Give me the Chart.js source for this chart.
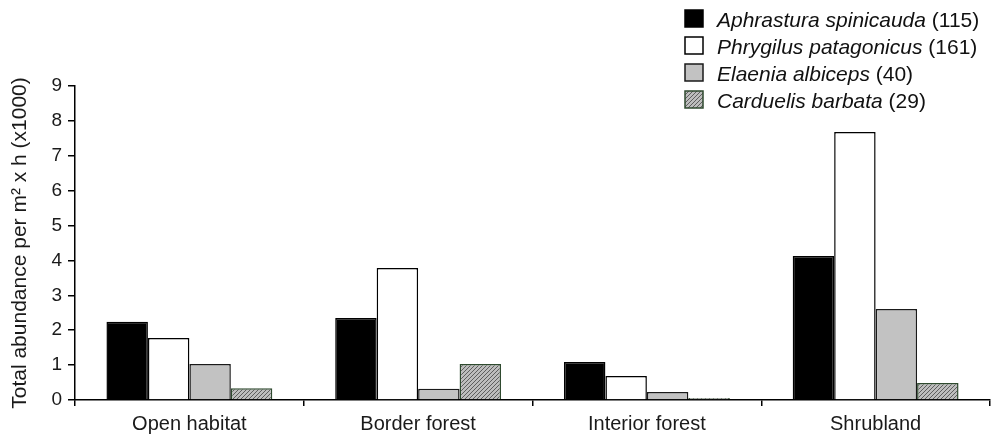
<!DOCTYPE html>
<html>
<head>
<meta charset="utf-8">
<script src="https://cdn.jsdelivr.net/npm/chart.js@4/dist/chart.umd.min.js"></script>
<style>
  html, body { margin: 0; padding: 0; background: #fff; }
  #wrap { width: 996px; height: 440px; position: relative; }
</style>
</head>
<body>
<div id="wrap"><canvas id="chart" width="996" height="440"></canvas></div>
<script>
const habitats = ['Open habitat', 'Border forest', 'Interior forest', 'Shrubland'];
const species = ['Aphrastura spinicauda', 'Phrygilus patagonicus', 'Elaenia albiceps', 'Carduelis barbata'];
const counts = [115, 161, 40, 29];

const aphrastura = [2.24, 2.35, 1.09, 4.13];
const phrygilus = [1.78, 3.78, 0.69, 7.68];
const elaenia = [1.03, 0.32, 0.23, 2.61];
const carduelis = [0.34, 1.03, 0.06, 0.49];

const yTicks = [0, 1, 2, 3, 4, 5, 6, 7, 8, 9];
const yTitle = 'Total abundance per m\u00B2 x h (x1000)';

const FONT = '"Liberation Sans", Arial, sans-serif';

// diagonal hatch like the Carduelis bars
function hatch() {
  let c = document.createElement('canvas');
  c.width = 4;
  c.height = 4;
  let ctx = c.getContext('2d');
  ctx.fillStyle = '#bdbdbd';
  ctx.fillRect(0, 0, 4, 4);
  ctx.strokeStyle = '#5e5e5e';
  ctx.lineWidth = 1;
  ctx.beginPath();
  ctx.moveTo(0, 4);
  ctx.lineTo(4, 0);
  ctx.moveTo(-1, 1);
  ctx.lineTo(1, -1);
  ctx.moveTo(3, 5);
  ctx.lineTo(5, 3);
  ctx.stroke();
  return ctx.createPattern(c, 'repeat');
}

const hatchFill = hatch();
const fills = ['#000000', '#ffffff', '#c2c2c2', hatchFill];
const borders = ['#000000', '#000000', '#1a1a1a', '#2f4a2f'];
const series = [aphrastura, phrygilus, elaenia, carduelis];

// legend with italic species name + upright count
const legendPlugin = {
  id: 'speciesLegend',
  afterDraw(chart) {
    const ctx = chart.ctx;
    ctx.save();
    species.forEach((name, i) => {
      const base = 27 + i * 27;
      ctx.fillStyle = fills[i];
      ctx.fillRect(685, base - 17, 18, 17);
      ctx.strokeStyle = borders[i];
      ctx.lineWidth = 1.5;
      ctx.strokeRect(685, base - 17, 18, 17);
      ctx.fillStyle = '#111';
      ctx.textBaseline = 'alphabetic';
      ctx.textAlign = 'left';
      ctx.font = 'italic 21px ' + FONT;
      ctx.fillText(name, 717, base);
      const w = ctx.measureText(name + ' ').width;
      ctx.font = '21px ' + FONT;
      ctx.fillText('(' + counts[i] + ')', 717 + w, base);
    });
    ctx.restore();
  }
};

new Chart(document.getElementById('chart'), {
  type: 'bar',
  data: {
    labels: habitats,
    datasets: series.map((vals, i) => {
      return {
        label: species[i],
        data: vals,
        backgroundColor: fills[i],
        borderColor: borders[i],
        borderWidth: 1.5,
        categoryPercentage: 0.725,
        barPercentage: 1.0
      };
    })
  },
  options: {
    responsive: false,
    animation: false,
    layout: {
      padding: { top: 86, right: 6, left: 0, bottom: 0 }
    },
    plugins: {
      legend: { display: false },
      tooltip: { enabled: false }
    },
    scales: {
      x: {
        afterFit: (scale) => { scale.height = 40; },
        border: { color: '#000', width: 1.5 },
        grid: {
          drawOnChartArea: false,
          drawTicks: true,
          tickLength: 6,
          color: '#000',
          lineWidth: 1.5,
          offset: true
        },
        ticks: {
          color: '#1a1a1a',
          padding: 6,
          font: { family: FONT, size: 20 }
        }
      },
      y: {
        min: 0,
        max: 9,
        afterFit: (scale) => { scale.width = 75; },
        afterBuildTicks: (scale) => {
          scale.ticks = yTicks.map((v) => ({ value: v }));
        },
        border: { color: '#000', width: 1.5 },
        grid: {
          drawOnChartArea: false,
          drawTicks: true,
          tickLength: 7,
          color: '#000',
          lineWidth: 1.5
        },
        ticks: {
          color: '#1a1a1a',
          padding: 6,
          font: { family: FONT, size: 19 }
        },
        title: {
          display: true,
          text: yTitle,
          color: '#1a1a1a',
          padding: { top: 8, bottom: 0 },
          font: { family: FONT, size: 21 }
        }
      }
    }
  },
  plugins: [legendPlugin]
});
</script>
</body>
</html>
